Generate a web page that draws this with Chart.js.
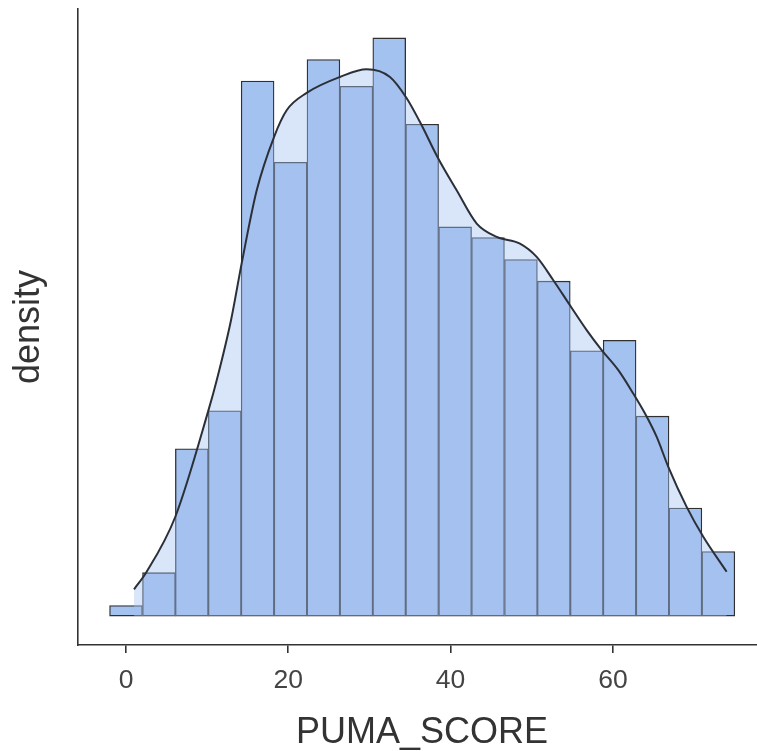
<!DOCTYPE html>
<html>
<head>
<meta charset="utf-8">
<script src="https://cdn.jsdelivr.net/npm/chart.js@4.4.0/dist/chart.umd.min.js"></script>
<style>
  html, body { margin: 0; padding: 0; background: #fff; overflow: hidden; }
</style>
</head>
<body>
<!-- the panel runs a little past the right edge of the window -->
<canvas id="histChart" width="766" height="751"></canvas>
<script>
'use strict';

// histogram: bin centres and density per bin
const binCenters = [0, 4.06, 8.11, 12.17, 16.22, 20.28, 24.33, 28.39, 32.44, 36.5,
                    40.56, 44.61, 48.67, 52.72, 56.78, 60.83, 64.89, 68.94, 73];
const binDensity = [0.00044, 0.00180, 0.00694, 0.00851, 0.02219, 0.01882, 0.02308, 0.02197,
                    0.02398, 0.02040, 0.01614, 0.01570, 0.01479, 0.01389, 0.01100, 0.01144,
                    0.00829, 0.00448, 0.00268];

// kernel density estimate of PUMA_SCORE
const kdeX = [0.99, 2.55, 6.08, 10.14, 11.18, 12.94, 14.26, 16.11, 18.24, 19.80, 22.27,
              26.37, 29.66, 32.53, 34.59, 36.23, 38.48, 40.75, 43.22, 45.68, 48.55, 50.61,
              52.66, 54.71, 56.77, 58.62, 60.67, 62.51, 63.96, 65.40, 66.83, 69.09, 71.14, 74.02];
const kdeY = [0.00111, 0.00184, 0.00412, 0.00851, 0.00978, 0.01227, 0.01464, 0.01766, 0.01987,
              0.02098, 0.02170, 0.02236, 0.02268, 0.02236, 0.02148, 0.02049, 0.01898, 0.01766,
              0.01628, 0.01573, 0.01545, 0.01490, 0.01393, 0.01289, 0.01186, 0.01103, 0.01020,
              0.00923, 0.00840, 0.00743, 0.00619, 0.00453, 0.00329, 0.00184];

const xTicks = [0, 20, 40, 60];

const COLORS = {
  bar:      '#a4c2f0',
  barEdge:  '#303030',
  kdeFill:  'rgba(164,194,240,0.42)',
  kdeLine:  '#2b3038',
  axis:     '#333333',
  tick:     '#444444',
  title:    '#333333',
};
const FONT = '"Liberation Sans", Arial, Helvetica, sans-serif';

const histChart = new Chart(document.getElementById('histChart'), {
  data: {
    datasets: [
      {
        type: 'line',
        label: 'density',
        data: kdeX.map((x, i) => ({ x, y: kdeY[i] })),
        borderColor: COLORS.kdeLine,
        borderWidth: 2,
        backgroundColor: COLORS.kdeFill,
        fill: 'origin',
        cubicInterpolationMode: 'monotone',
        pointRadius: 0,
        order: 0,
      },
      {
        type: 'bar',
        label: 'count',
        data: binCenters.map((x, i) => ({ x, y: binDensity[i] })),
        backgroundColor: COLORS.bar,
        borderColor: COLORS.barEdge,
        borderWidth: 1.3,
        borderSkipped: false,
        barPercentage: 1,
        categoryPercentage: 1,
        order: 1,
      },
    ],
  },
  options: {
    responsive: false,
    animation: false,
    layout: { padding: { top: 9, right: 0, left: 0, bottom: 0 } },
    plugins: {
      legend: { display: false },
      tooltip: { enabled: false },
    },
    scales: {
      x: {
        type: 'linear',
        min: -5.915,
        max: 78.87,
        offset: false,
        afterBuildTicks: scale => { scale.ticks = xTicks.map(v => ({ value: v })); },
        afterFit: scale => { scale.height = 106; },
        ticks: {
          color: COLORS.tick,
          font: { family: FONT, size: 26.5 },
          padding: 12,
          maxRotation: 0,
        },
        grid: {
          display: true,
          offset: false,
          drawOnChartArea: false,
          drawTicks: true,
          tickLength: 8,
          color: COLORS.axis,
          lineWidth: 1.6,
        },
        border: { display: true, color: COLORS.axis, width: 1.6 },
        title: {
          display: true,
          text: 'PUMA_SCORE',
          color: COLORS.title,
          font: { family: FONT, size: 36, lineHeight: 1 },
          padding: { top: 0, bottom: 0 },
        },
      },
      y: {
        type: 'linear',
        min: -0.0012,
        max: 0.02518,
        afterFit: scale => { scale.width = 78; },
        ticks: { display: false },
        grid: { display: false },
        border: { display: true, color: COLORS.axis, width: 1.6 },
        title: {
          display: true,
          text: 'density',
          color: COLORS.title,
          font: { family: FONT, size: 36 },
          padding: { top: 7, bottom: 0 },
        },
      },
    },
  },
});
</script>
</body>
</html>
